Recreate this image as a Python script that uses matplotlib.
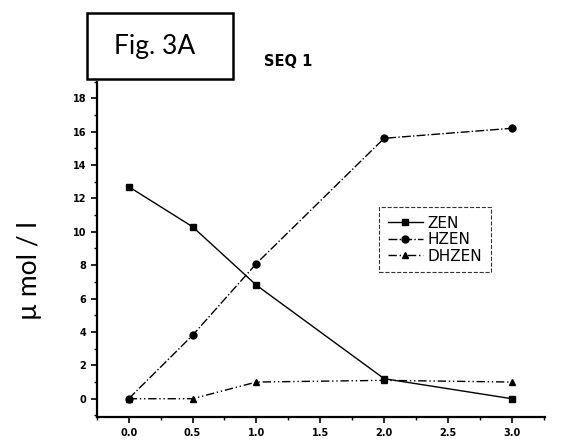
import matplotlib
matplotlib.use("Agg")
import matplotlib.pyplot as plt
from matplotlib.patches import Rectangle
from matplotlib.ticker import MultipleLocator

time = [0.0, 0.5, 1.0, 2.0, 3.0]
zen = [12.7, 10.3, 6.8, 1.2, 0.0]
hzen = [0.0, 3.8, 8.1, 15.6, 16.2]
dhzen = [0.0, 0.0, 1.0, 1.1, 1.0]
x_ticks = [0.0, 0.5, 1.0, 1.5, 2.0, 2.5, 3.0]
y_ticks = [0, 2, 4, 6, 8, 10, 12, 14, 16, 18]

fig = plt.figure(figsize=(5.66, 4.48), dpi=100)
ax = fig.add_axes([0.171, 0.069, 0.792, 0.749])

ax.plot(time, zen, color="black", lw=1.0, ls="-", marker="s", ms=5, label="ZEN")
ax.plot(time, hzen, color="black", lw=1.0, ls="-.", marker="o", ms=5, label="HZEN")
ax.plot(time, dhzen, color="black", lw=1.0, ls=(0, (6, 2, 1, 2, 1, 2)), marker="^", ms=5, label="DHZEN")

ax.set_xlim(-0.25, 3.26)
ax.set_ylim(-1.1, 19)
ax.set_xticks(x_ticks)
ax.set_xticklabels([f"{v:.1f}" for v in x_ticks])
ax.set_yticks(y_ticks)
ax.xaxis.set_minor_locator(MultipleLocator(0.25))
ax.yaxis.set_minor_locator(MultipleLocator(1))
ax.spines["top"].set_visible(False)
ax.spines["right"].set_visible(False)
for s in ("left", "bottom"):
    ax.spines[s].set_linewidth(1.6)
ax.tick_params(axis="both", which="major", direction="out", length=4, width=1.2,
               labelsize=7)
ax.tick_params(axis="both", which="minor", direction="out", length=2, width=1.0)
for lab in ax.get_xticklabels() + ax.get_yticklabels():
    lab.set_fontweight("bold")

leg = ax.legend(loc="upper left", bbox_to_anchor=(0.63, 0.625), frameon=True,
                fancybox=False, edgecolor="black", fontsize=11, handlelength=2.3,
                borderpad=0.55, labelspacing=0.1, handletextpad=0.33,
                borderaxespad=0)
leg.get_frame().set_linestyle("--")
leg.get_frame().set_linewidth(0.8)

fig.text(0.052, 0.396, "µ mol / l", rotation=90, fontsize=19,
         ha="center", va="center", family="Lato")

fig.patches.append(Rectangle((0.154, 0.824), 0.258, 0.147, transform=fig.transFigure,
                             fill=False, edgecolor="black", lw=1.8))
fig.text(0.274, 0.897, "Fig. 3A", fontsize=19, ha="center", va="center", family="Lato")
fig.text(0.509, 0.862, "SEQ 1", fontsize=10.5, fontweight="bold", ha="center", va="center")

fig.savefig("out.png", dpi=100)
